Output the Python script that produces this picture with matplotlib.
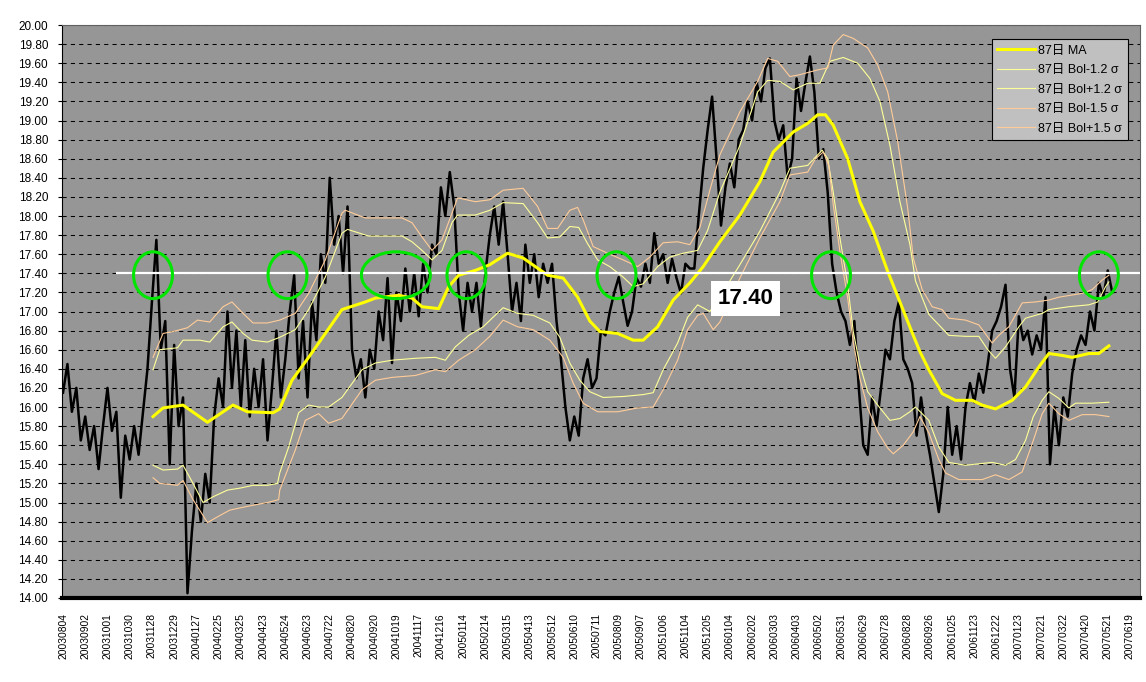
import matplotlib
matplotlib.use("Agg")
import matplotlib.pyplot as plt
from matplotlib.patches import Ellipse
import numpy as np

plt.rcParams['font.family'] = ['Liberation Sans', 'Noto Sans CJK JP']

# trading-day labels, one every 20 sessions
dates = ["20030804", "20030902", "20031001", "20031030", "20031128", "20031229",
         "20040127", "20040225", "20040325", "20040423", "20040524", "20040623",
         "20040722", "20040820", "20040920", "20041019", "20041117", "20041216",
         "20050114", "20050214", "20050315", "20050413", "20050512", "20050610",
         "20050711", "20050809", "20050907", "20051006", "20051104", "20051205",
         "20060104", "20060202", "20060303", "20060403", "20060502", "20060531",
         "20060629", "20060728", "20060828", "20060926", "20061025", "20061123",
         "20061222", "20070123", "20070221", "20070322", "20070420", "20070521",
         "20070619"]

# price, every 4th session
price = [
    16.15, 16.45, 15.95, 16.20, 15.65, 15.90, 15.55, 15.80, 15.35, 15.80,
    16.20, 15.75, 15.95, 15.05, 15.70, 15.45, 15.80, 15.50, 15.95, 16.40,
    17.10, 17.75, 16.60, 16.90, 15.40, 16.65, 15.80, 16.10, 14.05, 14.70,
    15.20, 14.80, 15.30, 15.00, 15.90, 16.30, 16.00, 17.00, 16.20, 16.80,
    16.00, 16.70, 15.90, 16.40, 16.00, 16.50, 15.65, 16.20, 16.80, 16.10,
    16.50, 17.00, 17.38, 16.30, 16.90, 16.10, 17.10, 16.70, 17.60, 17.30,
    18.40, 17.70, 18.00, 17.40, 18.10, 16.60, 16.30, 16.50, 16.10, 16.60,
    16.40, 17.00, 16.70, 17.35, 16.46, 17.20, 16.90, 17.45, 17.00, 17.40,
    16.95, 17.50, 17.20, 17.70, 17.60, 18.30, 18.00, 18.46, 18.10, 17.20,
    16.80, 17.30, 17.00, 17.30, 16.84, 17.40, 17.80, 18.10, 17.70, 18.15,
    17.60, 17.00, 17.30, 16.90, 17.70, 17.30, 17.60, 17.15, 17.50, 17.30,
    17.50, 16.90, 16.50, 16.00, 15.65, 15.90, 15.70, 16.30, 16.50, 16.20,
    16.30, 16.80, 16.75, 17.00, 17.20, 17.36, 17.10, 16.85, 17.00, 17.35,
    17.26, 17.50, 17.30, 17.82, 17.50, 17.60, 17.30, 17.55, 17.35, 17.19,
    17.50, 17.45, 17.45, 18.00, 18.50, 18.90, 19.25, 18.60, 17.90, 18.30,
    18.55, 18.30, 18.80, 18.90, 19.20, 19.00, 19.40, 19.20, 19.55, 19.65,
    19.00, 18.80, 18.95, 18.40, 18.60, 19.44, 19.10, 19.40, 19.67, 19.30,
    18.60, 18.70, 18.25, 17.50, 17.20, 17.00, 16.90, 16.65, 16.90, 16.20,
    15.60, 15.50, 16.10, 15.80, 16.20, 16.60, 16.50, 16.90, 17.10, 16.50,
    16.40, 16.25, 15.70, 16.10, 15.75, 15.50, 15.20, 14.90, 15.30, 16.00,
    15.50, 15.80, 15.45, 16.00, 16.25, 16.05, 16.35, 16.15, 16.45, 16.80,
    16.90, 17.05, 17.28, 16.40, 16.10, 16.95, 16.70, 16.80, 16.55, 16.75,
    16.60, 17.15, 15.40, 16.00, 15.60, 16.10, 15.90, 16.35, 16.60, 16.75,
    16.65, 17.00, 16.80, 17.30, 17.15, 17.43, 17.20,
]

ma_days = [81, 90, 108, 130, 153, 166, 189, 195, 206, 221, 236, 251, 272, 281, 302, 314, 323, 338, 347, 356,
           371, 384, 400, 414, 436, 450, 463, 474, 483, 499, 513, 522, 535, 549, 564, 576, 591, 609, 627, 639,
           657, 670, 679, 686, 693, 706, 717, 729, 742, 753, 765, 771, 779, 791, 803, 818, 827, 839, 854, 866,
           878, 887, 899, 908, 923, 932, 941]
ma_vals = [15.90, 15.99, 16.02, 15.84, 16.02, 15.95, 15.94, 15.98, 16.28, 16.52, 16.77, 17.02, 17.10, 17.14, 17.17, 17.14, 17.05, 17.03, 17.26, 17.38,
           17.43, 17.49, 17.61, 17.56, 17.38, 17.35, 17.15, 16.90, 16.79, 16.77, 16.70, 16.70, 16.84, 17.12, 17.30, 17.47, 17.73, 18.01, 18.36, 18.67,
           18.88, 18.97, 19.06, 19.06, 18.95, 18.60, 18.15, 17.84, 17.42, 17.10, 16.75, 16.58, 16.39, 16.14, 16.07, 16.07, 16.02, 15.98, 16.07, 16.21,
           16.42, 16.56, 16.54, 16.52, 16.56, 16.56, 16.64]

up15_days = [81, 90, 99, 112, 121, 132, 144, 152, 162, 171, 184, 195, 209, 221, 236, 251, 254, 272, 305, 314,
             323, 332, 341, 350, 355, 371, 384, 396, 414, 427, 436, 445, 456, 463, 468, 477, 490, 504, 517, 528,
             540, 553, 564, 573, 582, 591, 609, 625, 634, 643, 654, 663, 679, 688, 693, 702, 711, 724, 733, 742,
             751, 760, 765, 773, 782, 791, 797, 812, 824, 836, 842, 851, 863, 875, 887, 896, 917, 926, 935, 941]
up15_vals = [16.52, 16.77, 16.79, 16.83, 16.91, 16.89, 17.05, 17.10, 16.98, 16.88, 16.88, 16.91, 16.98, 17.19, 17.54, 18.03, 18.06, 17.98, 17.98, 17.93,
             17.78, 17.64, 17.75, 18.03, 18.19, 18.15, 18.17, 18.27, 18.29, 18.10, 17.87, 17.87, 18.06, 18.09, 17.96, 17.68, 17.61, 17.54, 17.47, 17.57,
             17.72, 17.73, 17.70, 17.88, 18.27, 18.64, 19.09, 19.41, 19.65, 19.62, 19.46, 19.48, 19.53, 19.55, 19.79, 19.90, 19.86, 19.76, 19.58, 19.30,
             18.78, 18.08, 17.56, 17.23, 17.05, 17.02, 16.93, 16.91, 16.86, 16.67, 16.75, 16.84, 17.09, 17.10, 17.12, 17.15, 17.19, 17.23, 17.33, 17.38]

up12_days = [81, 87, 103, 108, 123, 132, 144, 152, 162, 170, 184, 195, 209, 221, 236, 251, 256, 275, 305, 314,
             323, 332, 341, 350, 355, 371, 384, 396, 414, 427, 436, 447, 456, 464, 472, 481, 492, 504, 513, 522,
             535, 546, 558, 571, 580, 591, 609, 625, 634, 645, 657, 670, 681, 690, 702, 715, 726, 735, 744, 753,
             762, 767, 779, 797, 812, 824, 832, 839, 848, 860, 866, 881, 887, 905, 923, 931, 938, 941]
up12_vals = [16.39, 16.60, 16.62, 16.70, 16.70, 16.68, 16.84, 16.89, 16.77, 16.70, 16.68, 16.73, 16.81, 17.02, 17.36, 17.82, 17.86, 17.79, 17.79, 17.73,
             17.64, 17.54, 17.64, 17.93, 18.01, 18.01, 18.06, 18.14, 18.13, 17.93, 17.77, 17.78, 17.89, 17.88, 17.71, 17.54, 17.47, 17.36, 17.26, 17.29,
             17.47, 17.57, 17.61, 17.64, 17.85, 18.25, 18.74, 19.30, 19.42, 19.41, 19.32, 19.39, 19.39, 19.62, 19.66, 19.60, 19.44, 19.20, 18.74, 18.15,
             17.70, 17.32, 16.97, 16.75, 16.74, 16.74, 16.60, 16.51, 16.63, 16.84, 16.93, 16.98, 17.02, 17.05, 17.07, 17.10, 17.26, 17.31]

lo12_days = [81, 90, 103, 108, 117, 126, 135, 148, 159, 171, 184, 193, 195, 203, 212, 221, 230, 239, 251, 269,
             281, 296, 317, 335, 344, 353, 365, 378, 396, 409, 423, 438, 447, 456, 465, 474, 486, 504, 522, 531,
             540, 553, 562, 571, 582, 591, 609, 627, 645, 654, 670, 679, 683, 688, 693, 699, 706, 711, 717, 724,
             733, 744, 753, 762, 767, 779, 788, 797, 812, 836, 848, 857, 866, 873, 881, 887, 896, 905, 911, 926, 941]
lo12_vals = [15.39, 15.34, 15.35, 15.39, 15.20, 15.00, 15.06, 15.13, 15.15, 15.18, 15.18, 15.20, 15.31, 15.58, 15.94, 16.02, 16.00, 16.00, 16.10, 16.39,
             16.46, 16.49, 16.51, 16.52, 16.49, 16.63, 16.75, 16.84, 17.04, 16.98, 16.96, 16.88, 16.73, 16.46, 16.28, 16.16, 16.10, 16.11, 16.13, 16.15,
             16.39, 16.67, 16.94, 17.07, 17.00, 17.15, 17.49, 17.84, 18.25, 18.50, 18.53, 18.64, 18.69, 18.60, 18.25, 17.77, 17.28, 16.79, 16.44, 16.16,
             16.02, 15.86, 15.88, 15.95, 16.00, 15.86, 15.58, 15.42, 15.39, 15.42, 15.39, 15.45, 15.65, 15.90, 16.07, 16.16, 16.09, 15.99, 16.04, 16.04, 16.05]

lo15_days = [81, 87, 103, 108, 117, 130, 139, 150, 166, 184, 194, 195, 209, 218, 230, 239, 251, 269, 281, 296,
             317, 335, 344, 356, 371, 384, 396, 409, 423, 438, 450, 459, 468, 481, 499, 517, 531, 540, 553, 562,
             571, 576, 585, 591, 609, 627, 645, 654, 670, 677, 684, 689, 693, 699, 706, 711, 717, 724, 733, 742,
             747, 756, 765, 771, 779, 788, 794, 806, 827, 839, 851, 863, 873, 881, 887, 896, 905, 917, 929, 941]
lo15_vals = [15.26, 15.20, 15.18, 15.23, 15.03, 14.79, 14.85, 14.92, 14.96, 15.00, 15.03, 15.13, 15.55, 15.86, 15.93, 15.83, 15.88, 16.18, 16.28, 16.31,
             16.33, 16.39, 16.37, 16.49, 16.60, 16.74, 16.91, 16.84, 16.81, 16.70, 16.52, 16.25, 16.04, 15.95, 15.95, 15.99, 16.00, 16.18, 16.49, 16.81,
             16.96, 16.98, 16.81, 16.89, 17.35, 17.77, 18.15, 18.43, 18.46, 18.60, 18.67, 18.53, 18.12, 17.63, 17.14, 16.68, 16.30, 15.99, 15.74, 15.57,
             15.51, 15.60, 15.74, 15.90, 15.73, 15.45, 15.31, 15.24, 15.24, 15.29, 15.24, 15.32, 15.65, 15.93, 16.04, 15.93, 15.86, 15.92, 15.92, 15.90]

level = 17.40
# sessions where price touched the level (start, end)
touch_spans = [(81, 81), (202, 202), (286, 313), (363, 363), (498, 498), (691, 691), (932, 932)]


fig = plt.figure(figsize=(11.46, 6.82), dpi=100)
ax = fig.add_axes([62 / 1146, 84 / 682, 1078 / 1146, 573 / 682])
ax.set_facecolor("#969696")

for v in np.arange(14.2, 20.0, 0.2):
    ax.axhline(v, color="black", lw=0.75, ls=(0, (4, 4)), zorder=1)

price_days = list(range(0, 4 * len(price), 4))
ax.plot(price_days, price, color="black", lw=1.8, zorder=2)

l_ma, = ax.plot(ma_days, ma_vals, color="#FFFF00", lw=2.2, zorder=4, label="87日 MA")
l_lo12, = ax.plot(lo12_days, lo12_vals, color="#FFFF99", lw=0.8, zorder=3, label="87日 Bol-1.2 σ")
l_up12, = ax.plot(up12_days, up12_vals, color="#FFFF99", lw=0.8, zorder=3, label="87日 Bol+1.2 σ")
l_lo15, = ax.plot(lo15_days, lo15_vals, color="#FFCC99", lw=0.8, zorder=3, label="87日 Bol-1.5 σ")
l_up15, = ax.plot(up15_days, up15_vals, color="#FFCC99", lw=0.8, zorder=3, label="87日 Bol+1.5 σ")

ax.hlines(level, 48, 969, color="white", lw=1.6, zorder=5)

for a, b in touch_spans:
    e = Ellipse(((a + b) / 2, level - 0.02), b - a + 35, 0.49, fill=False,
                edgecolor="#00E600", lw=2.2, zorder=6)
    ax.add_patch(e)

ax.text(614, 17.14, f"{level:.2f}", fontsize=16, fontweight="bold", ha="center", va="center",
        zorder=7, bbox=dict(facecolor="white", edgecolor="none", pad=5))

ax.set_xlim(-0.9, 969)
ax.set_ylim(14, 20)

ax.set_yticks(np.arange(14, 20.01, 0.2))
ax.set_yticklabels([f"{v:.2f}" for v in np.arange(14, 20.01, 0.2)], fontsize=8.5)
ax.set_xticks(range(0, 20 * len(dates), 20))
ax.set_xticklabels(dates, rotation=90, fontsize=7.4)
ax.tick_params(axis="y", length=3, pad=7)
ax.tick_params(axis="x", length=3, direction="in", color="#969696", pad=11)

for s in ["top", "right"]:
    ax.spines[s].set_color("#606060")
    ax.spines[s].set_linewidth(0.8)
ax.spines["left"].set_linewidth(0.8)
ax.spines["bottom"].set_linewidth(3)

leg = ax.legend(handles=[l_ma, l_lo12, l_up12, l_lo15, l_up15], loc="upper right",
                bbox_to_anchor=(1128 / 1146, 1 - 39 / 682), bbox_transform=fig.transFigure,
                fontsize=9, frameon=True, fancybox=False, framealpha=1,
                facecolor="#C0C0C0", edgecolor="black", handlelength=3.0,
                labelspacing=0.6, borderpad=0.45, handletextpad=0.3, borderaxespad=0)
leg.get_frame().set_linewidth(0.8)
leg.set_zorder(10)

fig.savefig("out.png", dpi=100)
